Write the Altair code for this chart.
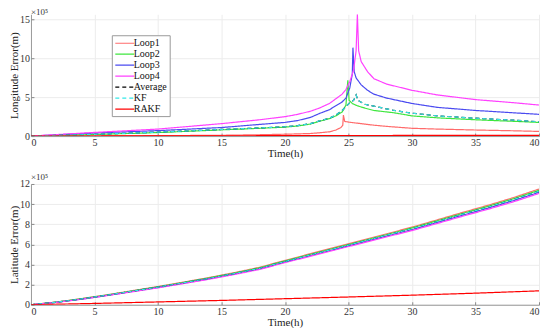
import altair as alt
import pandas as pd

SERIES = ["Loop1", "Loop2", "Loop3", "Loop4", "Average", "KF", "RAKF"]
COLORS = ["#ff6b6b", "#3ee63e", "#4b4bf0", "#ff40ff", "#000000", "#33e8e8", "#ff0000"]
DASHES = [[1, 0], [1, 0], [1, 0], [1, 0], [4, 3], [4, 3], [1, 0]]
WIDTHS = [1.2, 1.2, 1.2, 1.2, 1.3, 2.0, 2.4]

X_TICKS = [0, 5, 10, 15, 20, 25, 30, 35, 40]
LON_TICKS = [0, 5, 10, 15]
LAT_TICKS = [0, 2, 4, 6, 8, 10, 12]

# ---- Longitude error (x1e5 m) ----
LON_LOOP1_T = [0, 5, 10, 15, 18, 20, 21, 22, 22.7, 23.5, 24, 24.4, 24.55, 24.6, 24.7, 25, 25.5, 26, 27, 28, 30, 32, 35, 38, 40]
LON_LOOP1_V = [0, 0.02, 0.05, 0.1, 0.17, 0.24, 0.28, 0.33, 0.42, 0.55, 0.77, 1.1, 1.4, 2.7, 1.9, 1.8, 1.7, 1.6, 1.4, 1.25, 1.0, 0.9, 0.78, 0.68, 0.6]
LON_LOOP2_T = [0, 5, 10, 15, 18, 20, 21, 22, 22.7, 23.5, 24, 24.5, 24.8, 24.95, 25.05, 25.3, 25.7, 26.3, 27, 28.6, 30, 32, 35, 38, 40]
LON_LOOP2_V = [0, 0.2, 0.45, 0.8, 1.0, 1.15, 1.3, 1.55, 1.9, 2.25, 2.6, 3.1, 4.0, 7.2, 4.6, 4.2, 3.9, 3.6, 3.3, 3.0, 2.6, 2.35, 2.1, 1.9, 1.76]
LON_LOOP3_T = [0, 5, 10, 15, 18, 20, 21, 22, 22.7, 23.5, 24, 24.5, 24.8, 25.1, 25.3, 25.35, 25.45, 25.6, 26, 26.5, 27, 28, 30, 32, 35, 38, 40]
LON_LOOP3_V = [0, 0.4, 0.7, 1.1, 1.5, 1.76, 2.0, 2.4, 2.9, 3.4, 3.9, 4.4, 4.9, 6.2, 8.0, 11.4, 8.3, 7.5, 6.6, 5.9, 5.4, 4.9, 4.2, 3.7, 3.3, 3.0, 2.8]
LON_LOOP4_T = [0, 5, 10, 15, 18, 20, 21, 22, 22.7, 23.5, 24, 24.5, 24.8, 25.1, 25.4, 25.6, 25.7, 25.8, 26, 26.5, 27, 28, 30, 32, 35, 38, 40]
LON_LOOP4_V = [0, 0.47, 0.9, 1.6, 2.1, 2.5, 2.8, 3.2, 3.6, 4.2, 4.8, 5.4, 6.0, 7.0, 8.5, 11.0, 15.7, 11.0, 9.6, 8.3, 7.4, 6.7, 5.9, 5.3, 4.7, 4.3, 4.0]
LON_AVG_T = [0, 5, 10, 15, 18, 20, 21, 22, 22.7, 23.5, 24, 24.5, 24.8, 25.1, 25.4, 25.6, 25.75, 26.3, 27, 28.6, 30, 32, 35, 38, 40]
LON_AVG_V = [0, 0.22, 0.5, 0.85, 1.05, 1.2, 1.35, 1.6, 1.95, 2.3, 2.7, 3.3, 3.8, 4.3, 4.6, 5.3, 4.6, 4.1, 3.85, 3.3, 2.95, 2.6, 2.3, 2.05, 1.85]
LON_KF_T = [0, 5, 10, 15, 18, 20, 21, 22, 22.7, 23.5, 24, 24.5, 24.8, 25.1, 25.4, 25.6, 25.75, 26.3, 27, 28.6, 30, 32, 35, 38, 40]
LON_KF_V = [0, 0.22, 0.5, 0.85, 1.05, 1.2, 1.35, 1.6, 1.95, 2.3, 2.7, 3.3, 3.8, 4.3, 4.6, 5.3, 4.6, 4.1, 3.85, 3.3, 2.95, 2.6, 2.3, 2.05, 1.85]
LON_RAKF_T = [0, 10, 20, 30, 40]
LON_RAKF_V = [0, 0.02, 0.05, 0.08, 0.1]

# ---- Latitude error (x1e5 m) ----
LAT_T = [0, 2, 4, 6, 8, 10, 12, 14, 16, 18, 20, 22, 24, 26, 28, 30, 32, 34, 36, 38, 40]
LAT_LOOP1 = [0, 0.27, 0.61, 0.99, 1.40, 1.81, 2.25, 2.70, 3.19, 3.72, 4.41, 5.07, 5.73, 6.39, 7.05, 7.71, 8.44, 9.18, 9.89, 10.65, 11.5]
LAT_LOOP2 = [0, 0.26, 0.6, 0.97, 1.37, 1.78, 2.21, 2.66, 3.14, 3.67, 4.35, 5.01, 5.66, 6.32, 6.97, 7.63, 8.35, 9.08, 9.79, 10.54, 11.38]
LAT_LOOP3 = [0, 0.24, 0.56, 0.93, 1.32, 1.71, 2.14, 2.57, 3.05, 3.56, 4.24, 4.88, 5.53, 6.17, 6.82, 7.46, 8.18, 8.9, 9.6, 10.35, 11.17]
LAT_LOOP4 = [0, 0.23, 0.55, 0.91, 1.29, 1.68, 2.1, 2.53, 3.0, 3.51, 4.18, 4.82, 5.46, 6.1, 6.74, 7.37, 8.08, 8.8, 9.49, 10.23, 11.06]
LAT_AVG = [0, 0.25, 0.58, 0.95, 1.35, 1.75, 2.18, 2.62, 3.1, 3.62, 4.3, 4.95, 5.6, 6.25, 6.9, 7.55, 8.27, 9.0, 9.7, 10.45, 11.28]
LAT_KF = [0, 0.25, 0.58, 0.95, 1.35, 1.75, 2.18, 2.62, 3.1, 3.62, 4.3, 4.95, 5.6, 6.25, 6.9, 7.55, 8.27, 9.0, 9.7, 10.45, 11.28]
LAT_RAKF_T = [0, 5, 10, 15, 20, 25, 30, 35, 40]
LAT_RAKF = [0, 0.13, 0.28, 0.43, 0.6, 0.77, 0.95, 1.15, 1.38]

FONT = "Liberation Serif"


def long_df(pairs):
    rows = []
    for name, ts, vs in pairs:
        for t, v in zip(ts, vs):
            rows.append({"t": t, "v": v, "series": name})
    return pd.DataFrame(rows)


lon_df = long_df([
    ("Loop1", LON_LOOP1_T, LON_LOOP1_V),
    ("Loop2", LON_LOOP2_T, LON_LOOP2_V),
    ("Loop3", LON_LOOP3_T, LON_LOOP3_V),
    ("Loop4", LON_LOOP4_T, LON_LOOP4_V),
    ("Average", LON_AVG_T, LON_AVG_V),
    ("KF", LON_KF_T, LON_KF_V),
    ("RAKF", LON_RAKF_T, LON_RAKF_V),
])

lat_df = long_df([
    ("Loop1", LAT_T, LAT_LOOP1),
    ("Loop2", LAT_T, LAT_LOOP2),
    ("Loop3", LAT_T, LAT_LOOP3),
    ("Loop4", LAT_T, LAT_LOOP4),
    ("Average", LAT_T, LAT_AVG),
    ("KF", LAT_T, LAT_KF),
    ("RAKF", LAT_RAKF_T, LAT_RAKF),
])

legend = alt.Legend(title=None, orient="none", legendX=81, legendY=21,
                    symbolType="M-1.9,0L1.9,0", symbolSize=100, symbolOffset=5,
                    labelFont=FONT, labelFontSize=10,
                    labelColor="#111", labelOffset=3, padding=2, rowPadding=0,
                    fillColor="white", strokeColor="#9a9a9a", cornerRadius=0,
                    symbolStrokeWidth=1.3)


def enc(show_legend):
    lg = legend if show_legend else None
    return dict(
        color=alt.Color("series:N", scale=alt.Scale(domain=SERIES, range=COLORS), sort=SERIES, legend=lg),
        strokeDash=alt.StrokeDash("series:N", scale=alt.Scale(domain=SERIES, range=DASHES), sort=SERIES, legend=lg),
        strokeWidth=alt.StrokeWidth("series:N", scale=alt.Scale(domain=SERIES, range=WIDTHS), sort=SERIES, legend=lg),
    )


def inner_axis(orient, values):
    # MATLAB-style inward ticks: an extra axis pulled inside the plot
    return alt.Axis(orient=orient, offset=-3, ticks=True, tickSize=3, tickColor="#8a8a8a",
                    labels=False, domain=False, grid=False, title=None, values=values)


def panel(df, ytitle, ydomain, yticks, show_legend, height):
    xs = alt.Scale(domain=[0, 40], nice=False)
    ys = alt.Scale(domain=ydomain, nice=False)
    lines = alt.Chart(df).mark_line(clip=True).encode(
        x=alt.X("t:Q", scale=xs, axis=alt.Axis(title="Time(h)", values=X_TICKS, format="d")),
        y=alt.Y("v:Q", scale=ys, axis=alt.Axis(title=ytitle, values=yticks)),
        **enc(show_legend)
    )
    ticks = alt.Chart(df).mark_line(opacity=0).encode(
        x=alt.X("t:Q", scale=xs, axis=inner_axis("bottom", X_TICKS)),
        y=alt.Y("v:Q", scale=ys, axis=inner_axis("left", yticks)),
    )
    title = alt.TitleParams("×10⁵", anchor="start", frame="group", font=FONT, fontSize=9,
                            fontWeight="normal", color="#333", offset=-3)
    return alt.layer(lines, ticks, title=title).resolve_axis(
        x="independent", y="independent").properties(width=509, height=height)


top = panel(lon_df, "Longitude Error(m)", [0, 15.7], LON_TICKS, True, 122)
bottom = panel(lat_df, "Latitude Error(m)", [0, 12], LAT_TICKS, False, 121)

chart = alt.vconcat(top, bottom, spacing=14).properties(
    padding={"left": 0, "top": 0, "right": 2, "bottom": 0}
).configure_axis(
    labelFont=FONT, titleFont=FONT, labelFontSize=10, titleFontSize=11,
    labelColor="#333", titleColor="#222", titleFontWeight="normal",
    domainColor="#9a9a9a", gridColor="#ececec", ticks=False,
    labelPadding=1.5, titlePadding=0,
).configure_view(stroke=None)

chart.save("out.html", embed_options={"renderer": "svg", "actions": False})
